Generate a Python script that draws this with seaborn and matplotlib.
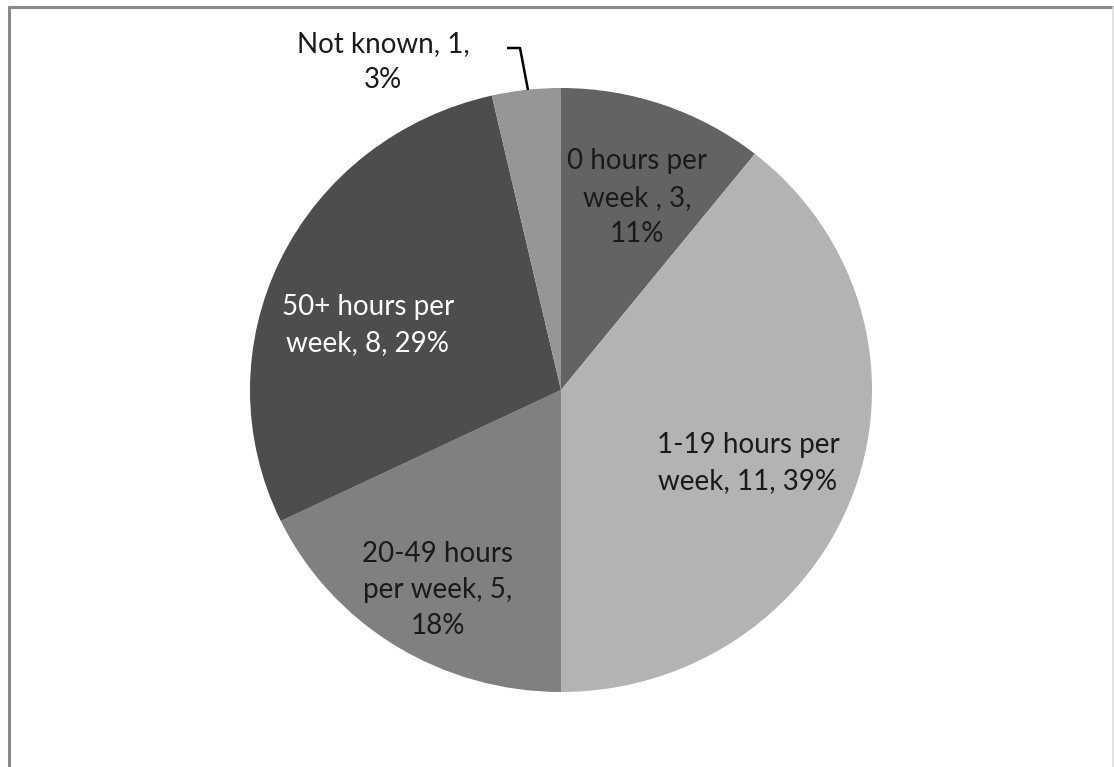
import matplotlib
matplotlib.use("Agg")
import matplotlib.pyplot as plt
import seaborn as sns

# Weekly hours categories and counts
categories = ["0 hours per week", "1-19 hours per week", "20-49 hours per week",
              "50+ hours per week", "Not known"]
counts = [3, 11, 5, 8, 1]
percents = [11, 39, 18, 29, 3]
label_texts = [
    "0 hours per\nweek , {c},\n{p}%",
    "1-19 hours per\nweek, {c}, {p}%",
    "20-49 hours\nper week, {c},\n{p}%",
    "50+ hours per\nweek, {c}, {p}%",
    "Not known, {c},\n{p}%",
]
slice_colors = ["#636363", "#b3b3b3", "#808080", "#4d4d4d", "#969696"]
text_colors = ["#1a1a1a", "#1a1a1a", "#1a1a1a", "#ffffff", "#1a1a1a"]
# label centres in figure pixels (x, y from top)
label_pos = [(637, 198), (748, 463), (438, 590), (368, 325), (383, 62)]

sns.set_theme(style="white")
plt.rcParams["font.family"] = ["Lato", "DejaVu Sans"]

W, H = 1114, 767
fig = plt.figure(figsize=(W / 100, H / 100), dpi=100)
ax = fig.add_axes([0, 0, 1, 1])

# the pie is drawn slightly wider than tall
rx, ry = 311, 302
sy = rx / ry


def py(y_top):
    return (H - y_top) * sy


ax.pie(counts, colors=slice_colors, startangle=90, counterclock=False,
       center=(561, py(390)), radius=rx, wedgeprops=dict(linewidth=0),
       frame=True)
ax.set_xlim(0, W)
ax.set_ylim(0, H * sy)
ax.set_aspect("auto")
ax.axis("off")

for cnt, pct, tmpl, col, (lx, ly) in zip(counts, percents, label_texts,
                                         text_colors, label_pos):
    ax.text(lx, py(ly), tmpl.format(c=cnt, p=pct), ha="center",
            va="center", fontsize=20, color=col, linespacing=1.5)

# leader line for the small slice
ax.plot([507, 520, 528], [py(48), py(48), py(90)], color="black", lw=1.8,
        solid_capstyle="butt")

# chart-area border
ax.plot([8.5, 8.5], [0, py(6.5)], color="#8a8a8a", lw=2.2)
ax.plot([8.5, 1112.5], [py(6.5), py(6.5)], color="#8a8a8a", lw=2.2)
ax.plot([1112.5, 1112.5], [0, py(6.5)], color="#dddddd", lw=1.2)

fig.savefig("out.png", dpi=100)
